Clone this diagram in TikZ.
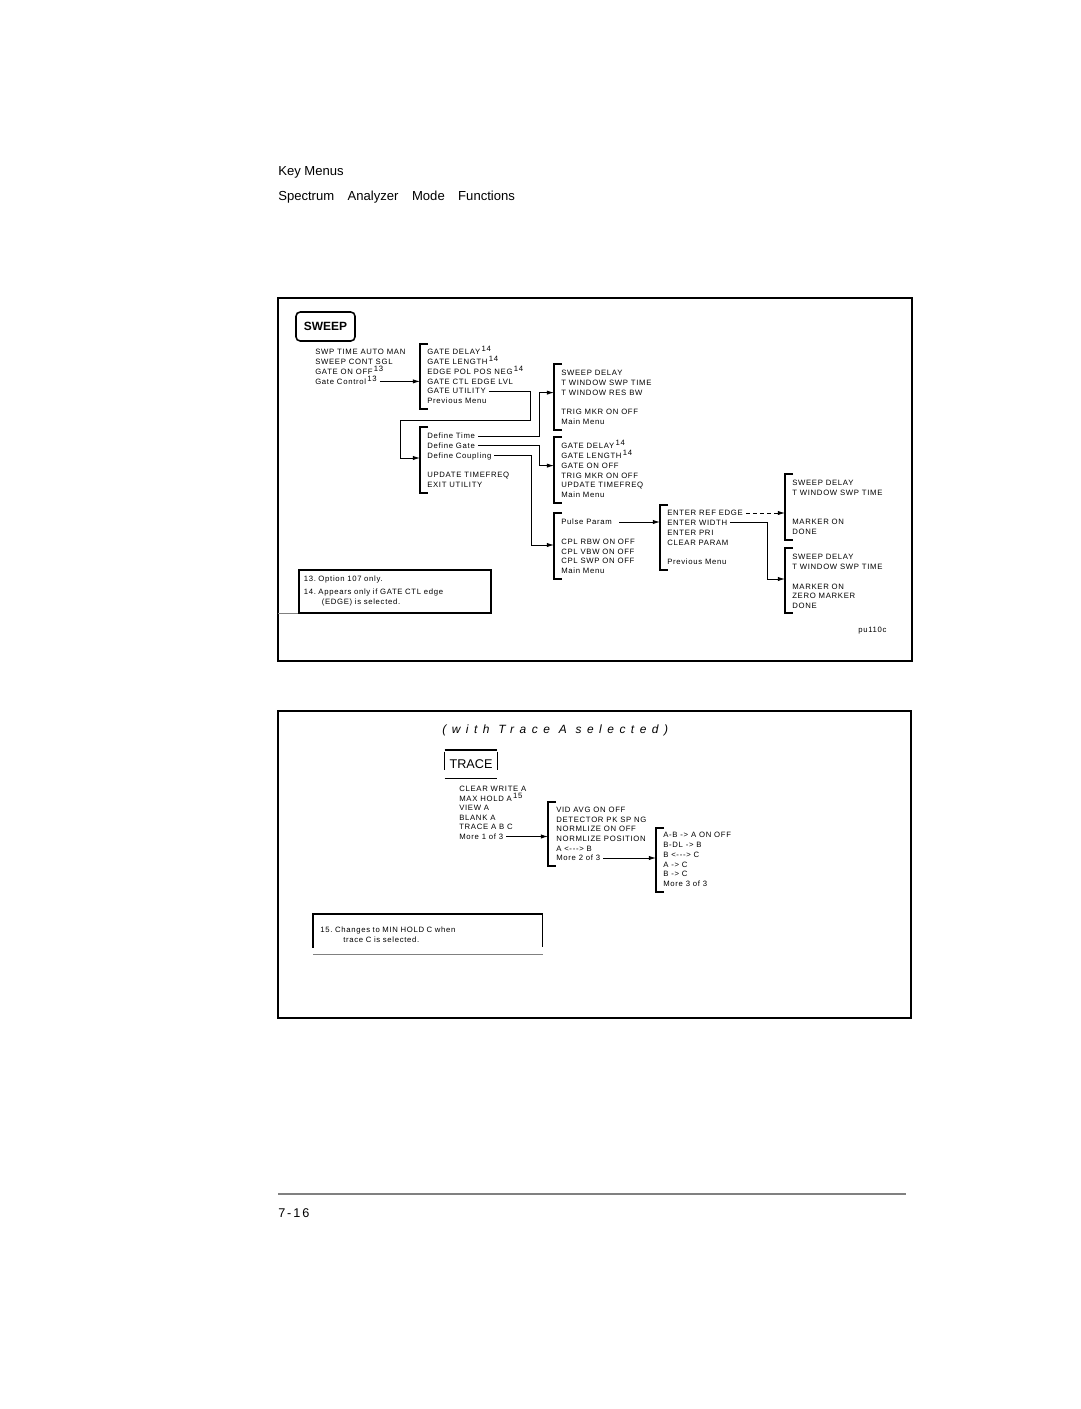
\documentclass[tikz,border=0pt]{standalone}
\usepackage{fontspec}
\setmainfont{Liberation Sans}
\newfontfamily\menufont[LetterSpace=9]{Liberation Sans}
\usetikzlibrary{arrows.meta}

\tikzstyle{frame} = [draw,line width=1.7pt]
\tikzstyle{keyline} = [draw,line width=1.1pt]
\tikzstyle{bracket} = [draw,line width=1.1pt]
\tikzstyle{link} = [draw,line width=0.6pt,-{Latex[length=5pt,width=3pt]},shorten <=2pt]
\tikzstyle{item} = [anchor=west,inner sep=0pt,text height=3.9pt,text depth=0pt,font=\menufont\fontsize{5.5pt}{7.1pt}\selectfont]
\tikzstyle{note} = [anchor=west,inner sep=0pt,font=\menufont\fontsize{5.5pt}{7.1pt}\selectfont]
\tikzstyle{heading} = [anchor=base west,inner sep=0pt,font=\fontsize{9.3pt}{11pt}\selectfont]

\newcommand{\supnote}[1]{\,\raisebox{2pt}{#1}}
% list of menu keys: name, x, y of first line, line step, line/text pairs
\newcommand{\keylist}[5]{%
  \foreach \k/\txt in {#5}
    \node[item] (#1-\k) at (#2,{#3+(\k-1)*#4}) {\txt};
}
% bracket in front of a menu: name, x, top, bottom
\newcommand{\keybracket}[4]{%
  \coordinate (#1) at (#2,#3);
  \draw[bracket] (#2+8,#3) -- (#2,#3) -- (#2,#4) -- (#2+8,#4);
}

\begin{document}
\begin{tikzpicture}[x=0.025cm,y=-0.025cm]
  \useasboundingbox (0,0) rectangle (1080,1409);

  \node[heading] (keymenus) at (278,175) {Key Menus};
  \node[heading] (title) at (278,200) {Spectrum\hspace{7pt} Analyzer\hspace{7pt} Mode\hspace{7pt} Functions};

  % SWEEP
  \draw[frame] (278,298) rectangle (912,661);
  \node[draw,line width=1.1pt,rounded corners=3pt,minimum width=1.475cm,minimum height=0.725cm,
        inner sep=0pt,font=\bfseries\fontsize{8.5pt}{10pt}\selectfont] (sweep) at (325.5,326.5) {SWEEP};

  \keylist{sw}{315}{352}{9.8}{1/SWP TIME AUTO MAN, 2/SWEEP CONT SGL, 3/GATE ON OFF\supnote{13}, 4/Gate Control\supnote{13}}

  \keybracket{gate}{420}{344}{409}
  \keylist{gate}{427}{352}{9.8}{1/GATE DELAY\supnote{14}, 2/GATE LENGTH\supnote{14}, 3/EDGE POL POS NEG\supnote{14}, 4/GATE CTL EDGE LVL, 5/GATE UTILITY, 6/Previous Menu}

  \keybracket{util}{420}{427}{493}
  \keylist{util}{427}{436}{9.8}{1/Define Time, 2/Define Gate, 3/Define Coupling, 5/UPDATE TIMEFREQ, 6/EXIT UTILITY}

  \keybracket{dtime}{554}{364}{430}
  \keylist{dtime}{561}{373}{9.8}{1/SWEEP DELAY, 2/T WINDOW SWP TIME, 3/T WINDOW RES BW, 5/TRIG MKR ON OFF, 6/Main Menu}

  \keybracket{dgate}{554}{437}{503}
  \keylist{dgate}{561}{446}{9.8}{1/GATE DELAY\supnote{14}, 2/GATE LENGTH\supnote{14}, 3/GATE ON OFF, 4/TRIG MKR ON OFF, 5/UPDATE TIMEFREQ, 6/Main Menu}

  \keybracket{cpl}{554}{513}{579}
  \keylist{cpl}{561}{522}{9.8}{1/Pulse Param, 3/CPL RBW ON OFF, 4/CPL VBW ON OFF, 5/CPL SWP ON OFF, 6/Main Menu}

  \keybracket{pulse}{660}{505}{570}
  \keylist{pulse}{667}{513}{9.8}{1/ENTER REF EDGE, 2/ENTER WIDTH, 3/ENTER PRI, 4/CLEAR PARAM, 6/Previous Menu}

  \keybracket{refedge}{785}{474}{540}
  \keylist{refedge}{792}{483}{9.8}{1/SWEEP DELAY, 2/T WINDOW SWP TIME, 5/MARKER ON, 6/DONE}

  \keybracket{wid}{785}{548}{613}
  \keylist{wid}{792}{557}{9.8}{1/SWEEP DELAY, 2/T WINDOW SWP TIME, 4/MARKER ON, 5/ZERO MARKER, 6/DONE}

  \draw[link] (sw-4.east) -- (sw-4.east -| gate);
  \draw[link] (gate-5.east) -- (gate-5.east -| 530,0) -- (530,420) -| (400,458) -- (util |- 0,458);
  \draw[link] (util-1.east) -- (util-1.east -| 539,0) |- (dtime |- dtime-3.west);
  \draw[link] (util-2.east) -- (util-2.east -| 539,0) |- (dgate |- dgate-3.west);
  \draw[link] (util-3.east) -- (util-3.east -| 531,0) |- (cpl |- 0,545);
  \draw[link,shorten <=5pt] (cpl-1.east) -- (cpl-1.east -| pulse);
  \draw[link,densely dashed] (pulse-1.east) -- (pulse-1.east -| refedge);
  \draw[link] (pulse-2.east) -- (pulse-2.east -| 767,0) |- (wid |- 0,579);

  \node[draw,line width=1.1pt,anchor=north west,minimum width=4.8cm,minimum height=1.075cm,
        inner xsep=0.125cm,inner ysep=0pt,text width=4.55cm,align=left,
        font=\menufont\fontsize{5.5pt}{7.1pt}\selectfont] (notes) at (298,569)
        {13.\ Option 107 only.\\[2pt] 14.\ Appears only if GATE CTL edge\\ \hspace*{0.45cm}(EDGE) is selected.};
  \draw[gray,line width=0.8pt] (notes.south west -| 278,0) -- (notes.south west);
  \node[note] (figid) at (858,631) {pu110c};

  % TRACE
  \draw[frame] (278,711) rectangle (911,1018);
  \node[anchor=west,inner sep=0pt,font=\fontsize{8.5pt}{10pt}\selectfont\itshape\addfontfeatures{LetterSpace=46}] (selnote) at (442,730) {(with Trace A selected)};
  \node[minimum width=1.3cm,minimum height=0.7cm,inner sep=0pt,font=\fontsize{9pt}{10pt}\selectfont] (tracekey) at (471,764) {TRACE};
  \draw[keyline] (tracekey.north west) -- (tracekey.north east);
  \draw[keyline] (tracekey.south west) -- (tracekey.south east);
  \draw[keyline] (tracekey.north west) ++(0,2) -- ++(0,18);
  \draw[keyline] (tracekey.north east) ++(0,2) -- ++(0,18);

  \keylist{trace}{459}{789}{9.5}{1/CLEAR WRITE A, 2/MAX HOLD A\supnote{15}, 3/VIEW A, 4/BLANK A, 5/TRACE A B C, 6/More 1 of 3}

  \keybracket{more2}{548}{802}{866}
  \keylist{more2}{556}{810}{9.6}{1/VID AVG ON OFF, 2/DETECTOR PK SP NG, 3/NORMLIZE ON OFF, 4/NORMLIZE POSITION, 5/A <-{}-{}-> B, 6/More 2 of 3}

  \keybracket{more3}{656}{828}{892}
  \keylist{more3}{663}{835}{9.8}{1/A-B -> A ON OFF, 2/B-DL -> B, 3/B <-{}-{}-> C, 4/A -> C, 5/B -> C, 6/More 3 of 3}

  \draw[link] (trace-6.east) -- (trace-6.east -| more2);
  \draw[link] (more2-6.east) -- (more2-6.east -| more3);

  \node[anchor=north west,minimum width=5.725cm,minimum height=1cm,inner xsep=0.175cm,inner ysep=0pt,
        text width=5.375cm,align=left,font=\menufont\fontsize{5.5pt}{7.1pt}\selectfont] (note15) at (313,914)
        {15.\ Changes to MIN HOLD C when\\ \hspace*{0.575cm}trace C is selected.};
  \draw[keyline] (note15.south west) ++(0,-7) |- (note15.north east) -- ++(0,33);
  \draw[gray,line width=0.8pt] (note15.south west) -- (note15.south east);

  % page foot
  \draw[gray,line width=0.8pt] (278,1194) -- (906,1194);
  \node[anchor=west,inner sep=0pt,font=\fontsize{9pt}{11pt}\selectfont\addfontfeatures{LetterSpace=15}] (pageno) at (278,1213) {7-16};
\end{tikzpicture}
\end{document}
